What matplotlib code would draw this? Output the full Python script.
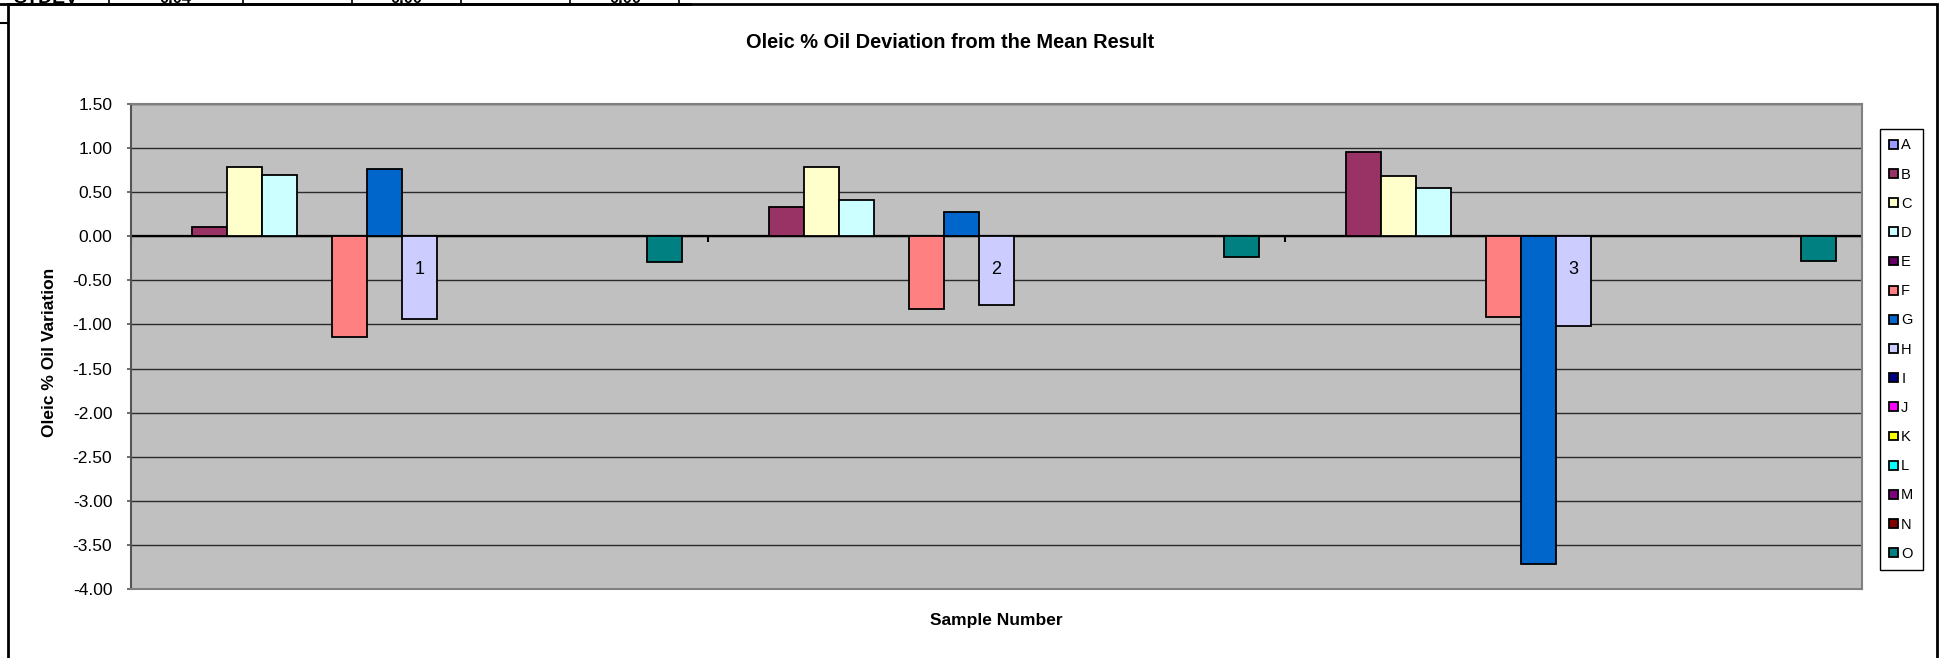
import numpy as np
import matplotlib
matplotlib.use("Agg")
import matplotlib.pyplot as plt
from matplotlib.patches import Rectangle
from matplotlib.lines import Line2D

plt.rcParams['font.family'] = ['Liberation Sans', 'DejaVu Sans']

# data (blank series = nan)
samples = ["1", "2", "3"]
series_names = ["A", "B", "C", "D", "E", "F", "G", "H", "I", "J", "K", "L", "M", "N", "O"]
series_colors = ["#9999FF", "#993366", "#FFFFCC", "#CCFFFF", "#660066", "#FF8080", "#0066CC",
                 "#CCCCFF", "#000080", "#FF00FF", "#FFFF00", "#00FFFF", "#800080", "#800000", "#008080"]
nan = np.nan
ser_a = [nan, nan, nan]
ser_b = [0.10, 0.33, 0.96]
ser_c = [0.79, 0.79, 0.68]
ser_d = [0.69, 0.41, 0.55]
ser_e = [nan, nan, nan]
ser_f = [-1.14, -0.83, -0.92]
ser_g = [0.76, 0.27, -3.72]
ser_h = [-0.94, -0.78, -1.02]
ser_i = [nan, nan, nan]
ser_j = [nan, nan, nan]
ser_k = [nan, nan, nan]
ser_l = [nan, nan, nan]
ser_m = [nan, nan, nan]
ser_n = [nan, nan, nan]
ser_o = [-0.29, -0.23, -0.28]
all_series = [ser_a, ser_b, ser_c, ser_d, ser_e, ser_f, ser_g, ser_h,
              ser_i, ser_j, ser_k, ser_l, ser_m, ser_n, ser_o]

# cut-off table row above the chart
table_label = "STDEV"
table_values = ["0.04", "0.00", "0.00"]

W, H = 1944, 658
fig = plt.figure(figsize=(W / 100, H / 100), dpi=100)

def fx(px):
    return px / W

def fy(py):
    return 1 - py / H

# leftover spreadsheet bits at the top
for xx in [109, 243, 352, 461, 570, 679]:
    fig.add_artist(Line2D([fx(xx), fx(xx)], [fy(0), fy(4)], color='black', lw=1.2, transform=fig.transFigure))
fig.add_artist(Line2D([0, fx(690)], [fy(4), fy(4)], color='black', lw=2, transform=fig.transFigure))
fig.add_artist(Line2D([0, fx(8)], [fy(23), fy(23)], color='black', lw=1.5, transform=fig.transFigure))
fig.text(fx(13), fy(3), table_label, fontsize=14, fontweight='bold', va='baseline', ha='left')
for xx, t in zip([175, 406, 625], table_values):
    fig.text(fx(xx), fy(3), t, fontsize=12, fontweight='bold', va='baseline', ha='center')

# chart area border (runs off the bottom)
fig.add_artist(Rectangle((fx(8), -0.05), fx(1937) - fx(8), fy(4) + 0.05, fill=False,
                         ec='black', lw=2, transform=fig.transFigure))

ax = fig.add_axes([fx(131), fy(589), fx(1862) - fx(131), fy(104) - fy(589)])
ax.set_facecolor('#C0C0C0')

x = np.arange(len(samples))
n = len(series_names)
w = 1 / (n + 1.5)
handles = []
for i, (name, col, vals) in enumerate(zip(series_names, series_colors, all_series)):
    b = ax.bar(x + (i - (n - 1) / 2) * w, vals, w, color=col, edgecolor='black', linewidth=1.3,
               zorder=3, label=name)
    handles.append(b)

ax.set_xlim(-0.5, len(samples) - 0.5)
ax.set_ylim(-4.0, 1.5)
yt = np.arange(-4.0, 1.51, 0.5)
ax.set_yticks(yt)
ax.set_yticklabels(["%.2f" % v for v in yt], fontsize=12.5)
ax.set_xticks([])
ax.yaxis.grid(True, color='#2a2a2a', lw=1)
ax.set_axisbelow(True)
ax.tick_params(axis='y', length=3, width=1.2, color='#555555', pad=10.5)
for s in ax.spines.values():
    s.set_color('#808080')
    s.set_linewidth(1.5)
ax.spines['left'].set_color('#555555')

# category axis sitting on zero
ax.axhline(0, color='black', lw=1.6, zorder=2.5)
ax.vlines(np.arange(len(samples) + 1) - 0.5, 0, -0.07, color='black', lw=1.5, zorder=2.5)
for xi, lab in zip(x, samples):
    ax.annotate(lab, xy=(xi, 0), xytext=(0, -24), textcoords='offset points',
                ha='center', va='center', fontsize=13, zorder=6)

fig.text(fx(950), fy(42), "Oleic % Oil Deviation from the Mean Result", fontsize=14.4,
         fontweight='bold', ha='center', va='center')
fig.text(fx(49), fy(352), "Oleic % Oil Variation", fontsize=12.5, fontweight='bold',
         rotation=90, ha='center', va='center')
fig.text(fx(996), fy(620), "Sample Number", fontsize=12.5, fontweight='bold', ha='center', va='center')

leg = ax.legend(handles=handles, loc='upper left', bbox_to_anchor=(fx(1880), fy(129)),
                bbox_transform=fig.transFigure, fontsize=10.5, frameon=True, fancybox=False,
                edgecolor='black', framealpha=1, handlelength=0.55, handleheight=0.55,
                handletextpad=0.25, labelspacing=1.04, borderpad=0.65, borderaxespad=0)
leg.get_frame().set_linewidth(1.0)

fig.savefig("out.png", dpi=100)
